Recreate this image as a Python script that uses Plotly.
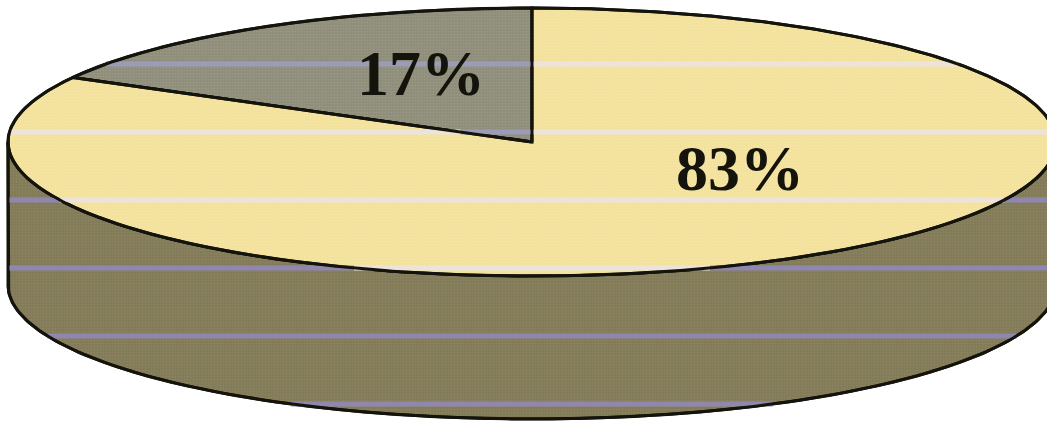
import numpy as np
import plotly.graph_objects as go

# Data
labels = ["17%", "83%"]
shares = [17, 83]
stripe_rows = [64, 132, 200, 268, 336, 404]

# Drawing geometry of the tilted disc, in page pixels
CX, CY, RX, RY, DEPTH = 532, 142, 524, 134, 143
YELLOW, GREY, SIDE, INK = "#f3e19c", "#8f8e7a", "#827b59", "#14140d"
GRAIN_YELLOW, GRAIN_GREY, GRAIN_SIDE = "#f8ecb8", "#a8a596", "#9a9068"
STRIPE_YELLOW, STRIPE_GREY, STRIPE_SIDE = "#ece4dc", "#9c9cb8", "#8f87b0"


def rim(deg, cy=CY):
    t = np.radians(np.asarray(deg, dtype=float))
    return CX + RX * np.sin(t), cy - RY * np.cos(t)


def half_width(y, cy):
    d = (y - cy) / RY
    return RX * np.sqrt(1 - d * d) if abs(d) < 1 else None


grey_deg = shares[0] / sum(shares) * 360
tip_x, tip_y = rim(-grey_deg)

fig = go.Figure()


def area(xs, ys, color, grain):
    fig.add_trace(go.Scatter(x=list(xs), y=list(ys), mode="lines", fill="toself",
                             fillcolor=color,
                             fillpattern=dict(shape=".", size=3, solidity=0.25,
                                              fgcolor=grain, bgcolor=color),
                             line=dict(color=INK, width=3),
                             hoverinfo="skip", showlegend=False))


def stripe(x0, x1, y, color):
    if x1 > x0:
        fig.add_trace(go.Scatter(x=[x0, x1], y=[y, y], mode="lines",
                                 line=dict(color=color, width=5),
                                 hoverinfo="skip", showlegend=False))


# Side wall
lower = np.linspace(90, 270, 241)
ux, uy = rim(lower)
bx, by = rim(lower[::-1], CY + DEPTH)
area(np.r_[ux, bx, ux[0]], np.r_[uy, by, uy[0]], SIDE, GRAIN_SIDE)

# Top face slices
a = np.linspace(-grey_deg, 0, 121)
gx, gy = rim(a)
area(np.r_[CX, gx, CX], np.r_[CY, gy, CY], GREY, GRAIN_GREY)
a2 = np.linspace(0, 360 - grey_deg, 601)
yx, yy = rim(a2)
area(np.r_[CX, yx, CX], np.r_[CY, yy, CY], YELLOW, GRAIN_YELLOW)

# Scan stripes, cut to each face
for y in stripe_rows:
    top = half_width(y, CY)
    wall_low = half_width(y, CY + DEPTH)
    if top is not None:
        l, r = CX - top, CX + top
        if y <= CY:
            edge = max(l, CX - (CY - y) / (CY - tip_y) * (CX - tip_x))
            if y >= tip_y:
                stripe(l, edge, y, STRIPE_YELLOW)
                stripe(edge, CX, y, STRIPE_GREY)
            else:
                stripe(l, CX, y, STRIPE_GREY)
            stripe(CX, r, y, STRIPE_YELLOW)
        else:
            stripe(l, r, y, STRIPE_YELLOW)
    if y > CY:
        if y < CY + DEPTH:
            outer_l, outer_r = CX - RX, CX + RX
        elif wall_low is not None:
            outer_l, outer_r = CX - wall_low, CX + wall_low
        else:
            continue
        if top is None:
            stripe(outer_l, outer_r, y, STRIPE_SIDE)
        else:
            stripe(outer_l, CX - top, y, STRIPE_SIDE)
            stripe(CX + top, outer_r, y, STRIPE_SIDE)

# Redraw the outlines over the stripes
ex, ey = rim(np.linspace(0, 360, 721))
wx, wy = rim(np.linspace(90, 270, 241), CY + DEPTH)
outlines = [(ex, ey),
            (np.r_[tip_x, CX, CX], np.r_[tip_y, CY, CY - RY]),
            (np.r_[CX + RX, wx, CX - RX], np.r_[CY, wy, CY])]
for xs, ys in outlines:
    fig.add_trace(go.Scatter(x=xs, y=ys, mode="lines", line=dict(color=INK, width=3),
                             hoverinfo="skip", showlegend=False))

# Percentage labels
fig.add_trace(go.Scatter(x=[421, 740], y=[78.5, 173.5], mode="text", text=labels,
                         textposition="middle center",
                         textfont=dict(family="Liberation Serif", size=64, color=INK),
                         texttemplate="<b>%{text}</b>",
                         hoverinfo="skip", showlegend=False))

fig.update_layout(width=1047, height=421, margin=dict(l=0, r=0, t=0, b=0),
                  paper_bgcolor="white", plot_bgcolor="white", showlegend=False,
                  xaxis=dict(range=[0, 1047], visible=False, fixedrange=True),
                  yaxis=dict(range=[421, 0], visible=False, fixedrange=True))
fig.write_html("out.html", config={"displayModeBar": False},
               post_script="document.body.style.margin='0';document.body.style.overflow='hidden';")
